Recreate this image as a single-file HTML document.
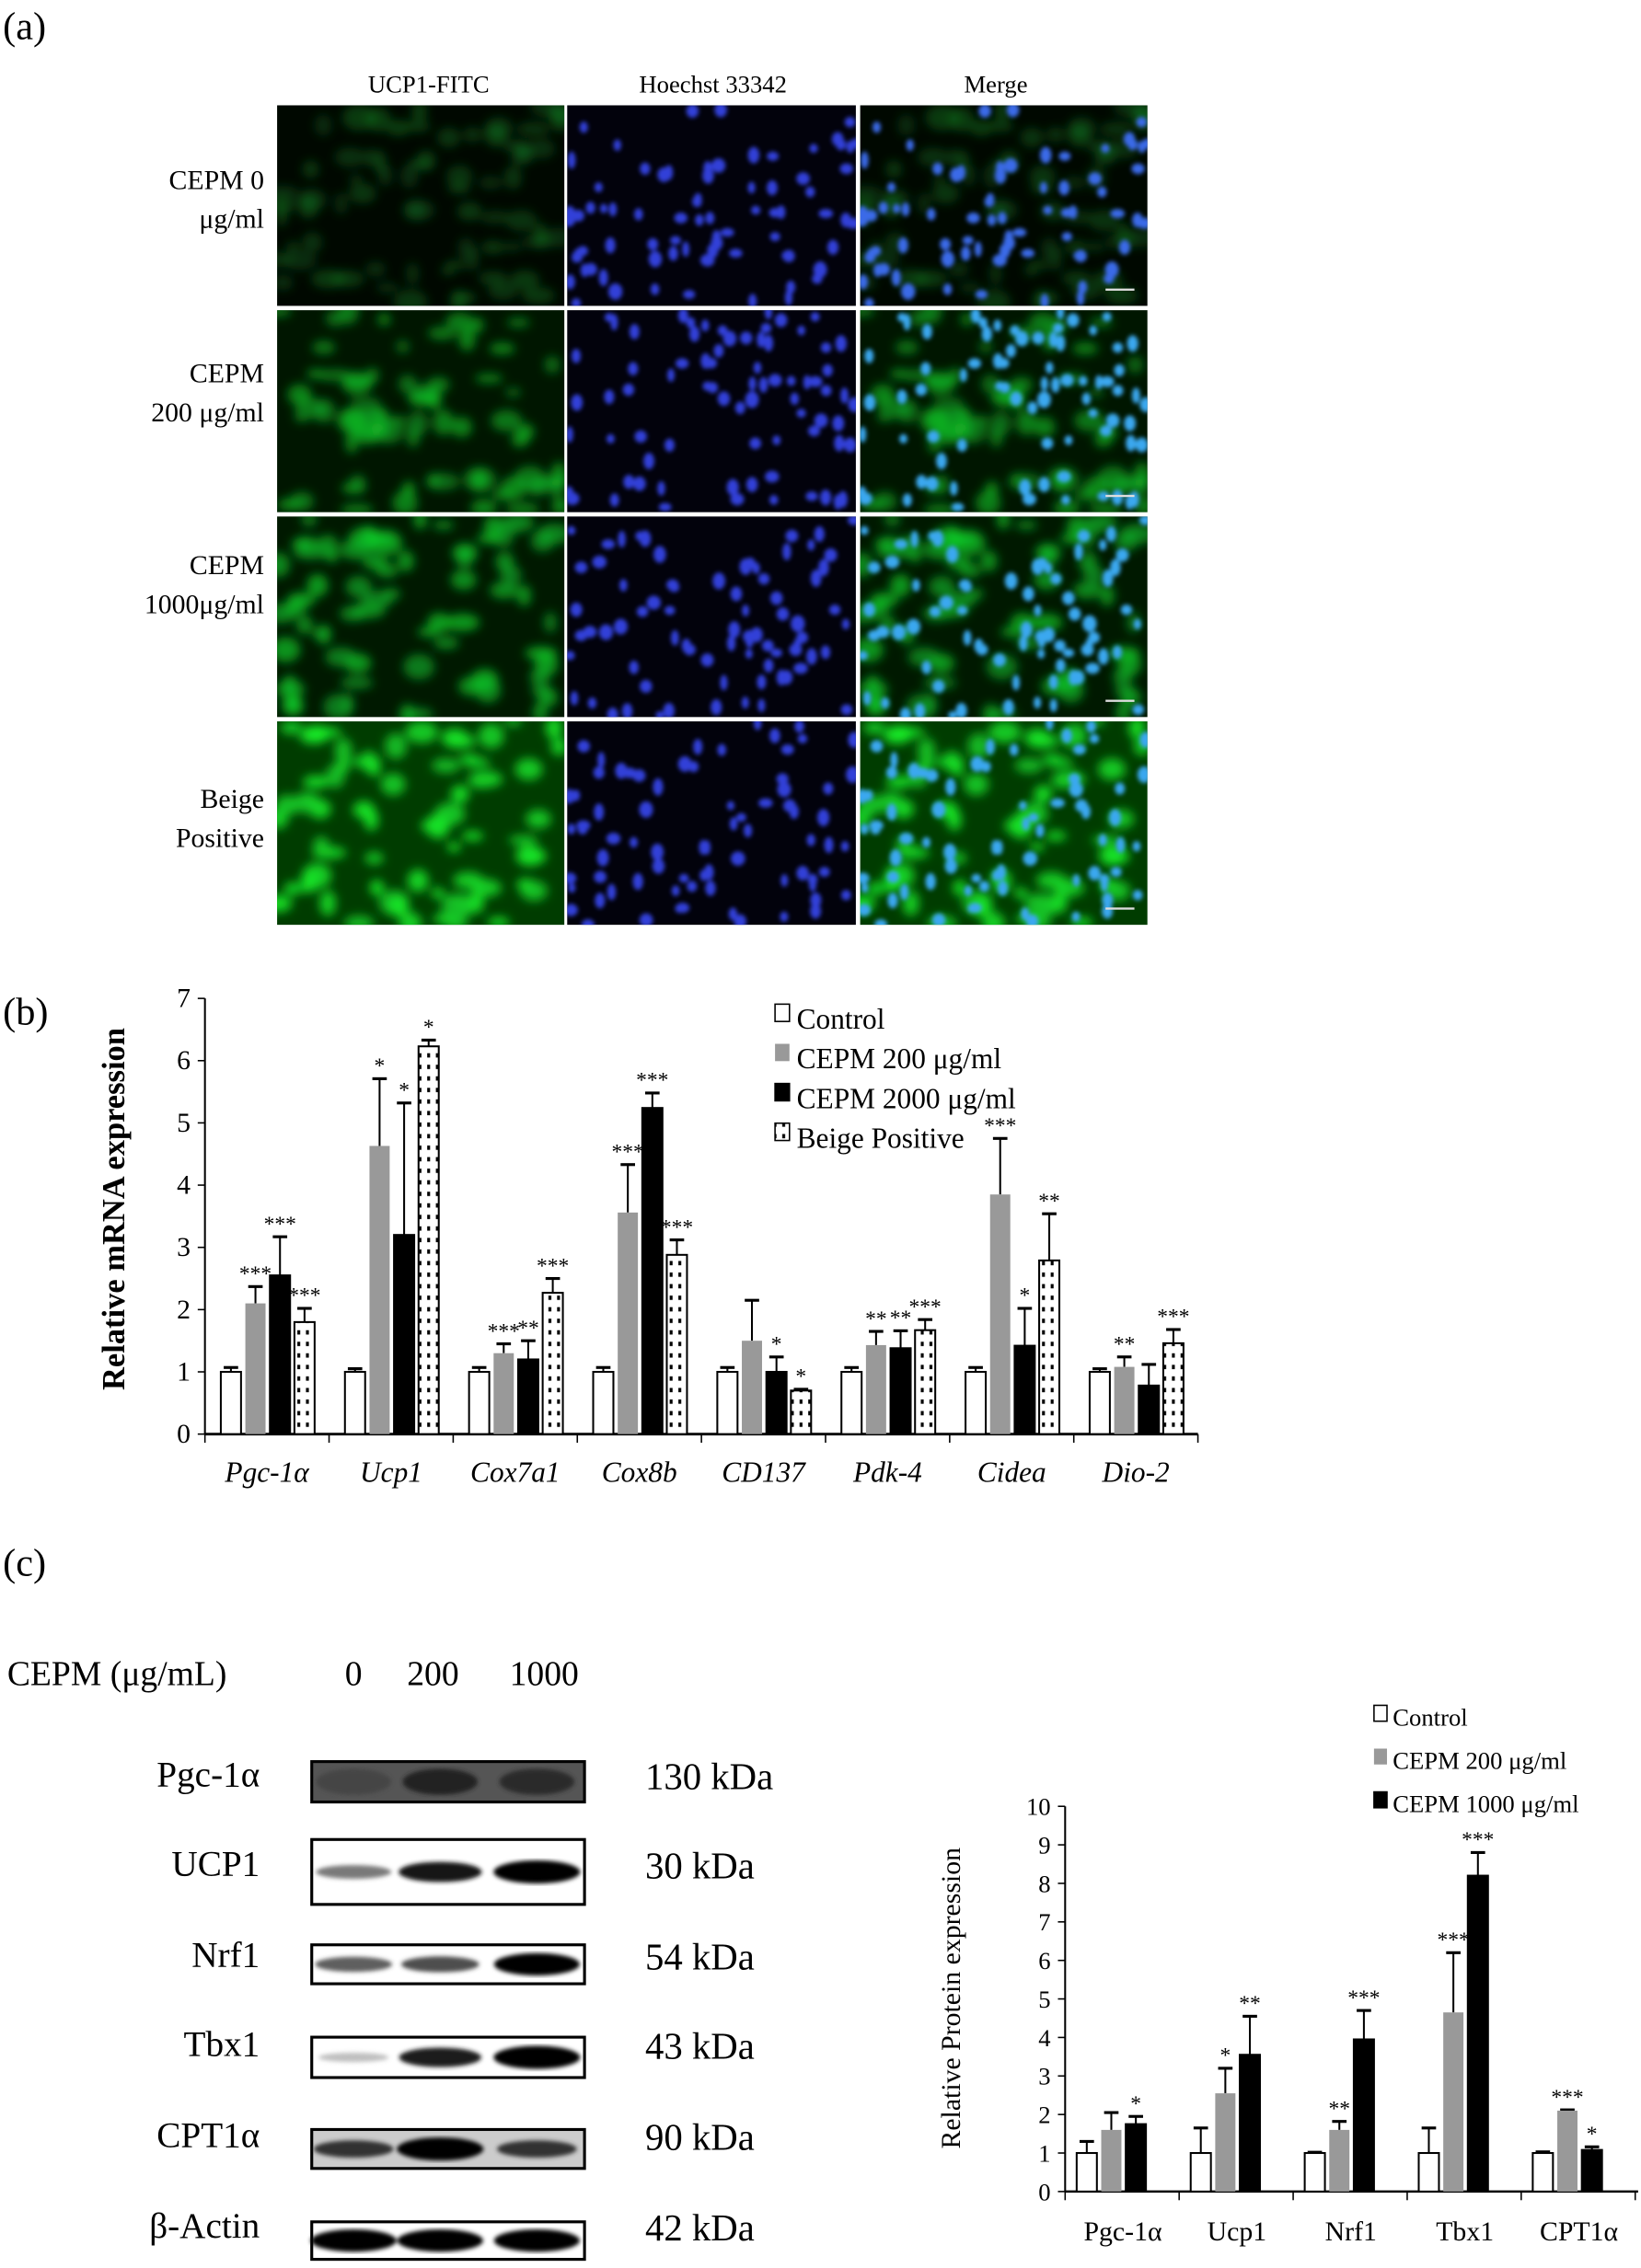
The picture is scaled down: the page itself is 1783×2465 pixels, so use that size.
<!DOCTYPE html>
<html><head><meta charset="utf-8"><style>
html,body{margin:0;padding:0;background:#fff;width:1783px;height:2465px;overflow:hidden}
svg{display:block}
text{font-family:"Liberation Serif",serif;fill:#000}
</style></head><body>
<svg id="s" width="1783" height="2465" viewBox="0 0 1137 1572" preserveAspectRatio="none" xmlns="http://www.w3.org/2000/svg">
<defs>
<pattern id="dots" width="6" height="8" patternUnits="userSpaceOnUse"><rect width="6" height="8" fill="#fff"/><rect x="2" y="2" width="2" height="3" fill="#000"/></pattern>
<filter id="bl"><feGaussianBlur stdDeviation="1.5"/></filter>
<filter id="bl2"><feGaussianBlur stdDeviation="3.5"/></filter>
</defs>
<text x="2" y="27" font-size="27">(a)</text>
<text x="297" y="64" font-size="17" text-anchor="middle">UCP1-FITC</text>
<text x="494" y="64" font-size="17" text-anchor="middle">Hoechst 33342</text>
<text x="690" y="64" font-size="17" text-anchor="middle">Merge</text>
<g font-size="19" text-anchor="end">
<text x="183" y="131">CEPM 0</text><text x="183" y="158">μg/ml</text>
<text x="183" y="265">CEPM</text><text x="183" y="292">200 μg/ml</text>
<text x="183" y="398">CEPM</text><text x="183" y="425">1000μg/ml</text>
<text x="183" y="560">Beige</text><text x="183" y="587">Positive</text>
</g>
<g id="imgs"></g>
<text x="2" y="710" font-size="27">(b)</text>
<g id="chartb"></g>
<text x="2" y="1092" font-size="27">(c)</text>
<text x="5" y="1168" font-size="24">CEPM (μg/mL)</text>
<text x="245" y="1168" font-size="24" text-anchor="middle">0</text>
<text x="300" y="1168" font-size="24" text-anchor="middle">200</text>
<text x="377" y="1168" font-size="24" text-anchor="middle">1000</text>
<g id="blots"></g>
<g id="chartc"></g>
</svg>
<script>
(function(){
var NS="http://www.w3.org/2000/svg";
function el(p,t,a,txt){var e=document.createElementNS(NS,t);for(var k in a)e.setAttribute(k,a[k]);if(txt!==undefined)e.textContent=txt;p.appendChild(e);return e;}
var seed=7;function rnd(){seed=(seed*16807)%2147483647;return seed/2147483647;}
var G=document.getElementById('imgs');
var cols=[[192,199],[393,200],[596,199]],rows=[[73,139],[215,140],[358,139],[500,141]];
var gb=[[8,0.35,110],[22,0.6,160],[25,0.65,170],[60,0.85,200]];
for(var r=0;r<4;r++){for(var c=0;c<3;c++){
 var x=cols[c][0],y=rows[r][0],w=cols[c][1],h=rows[r][1];
 var g=el(G,'g',{});
 var bgG=c==1?0:gb[r][0];
 el(g,'rect',{x:x,y:y,width:w,height:h,fill:c==1?'#02020c':'rgb(0,'+bgG+',0)'});
 var cp=el(g,'clipPath',{id:'c'+r+c});el(cp,'rect',{x:x,y:y,width:w,height:h});
 var inner=el(g,'g',{'clip-path':'url(#c'+r+c+')'});
 if(c!=1){var gg=el(inner,'g',{filter:'url(#bl2)'});seed=500+r*17;
  for(var i=0;i<70;i++){var a=gb[r][1];el(gg,'ellipse',{cx:x+rnd()*w,cy:y+rnd()*h,rx:4+rnd()*8,ry:3+rnd()*6,fill:'rgb(20,'+Math.round(gb[r][2]+rnd()*50)+',40)','fill-opacity':a});}}
 if(c!=0){var bg=el(inner,'g',{filter:'url(#bl)'});seed=1000+r*31;
  for(var i=0;i<75;i++){var col=c==2?(r==0?'#3a6ae8':'#3aa8f0'):'#3040d8';el(bg,'ellipse',{cx:x+rnd()*w,cy:y+rnd()*h,rx:2.5+rnd()*2.5,ry:3+rnd()*3,fill:col});}}
 if(c==2)el(g,'rect',{x:x+170,y:y+h-12,width:20,height:1.5,fill:'#ddd'});
}}
var B=document.getElementById('chartb');
var y0=994,u=43.14,x0=142;
el(B,'line',{x1:x0,y1:692,x2:x0,y2:y0,stroke:'#000','stroke-width':1.3});
el(B,'line',{x1:x0,y1:y0,x2:830,y2:y0,stroke:'#000','stroke-width':1.8});
for(var i=0;i<=7;i++){var yy=y0-i*u;el(B,'line',{x1:x0-5,y1:yy,x2:x0,y2:yy,stroke:'#000'});el(B,'text',{x:x0-10,y:yy+6,'font-size':19,'text-anchor':'end'},i);}
for(var i=0;i<=8;i++){var xx=x0+i*86;el(B,'line',{x1:xx,y1:y0,x2:xx,y2:y0+6,stroke:'#000'});}
var names=['Pgc-1α','Ucp1','Cox7a1','Cox8b','CD137','Pdk-4','Cidea','Dio-2'];
var vals=[[1,2.1,2.55,1.8],[1,4.63,3.2,6.23],[1,1.3,1.2,2.27],[1,3.56,5.24,2.88],[1,1.5,1.0,0.7],[1,1.43,1.38,1.67],[1,3.85,1.42,2.79],[1,1.08,0.78,1.46]];
var errs=[[.07,.27,.62,.22],[.05,1.08,2.12,.1],[.07,.15,.3,.23],[.07,.77,.24,.24],[.07,.65,.24,.02],[.07,.22,.28,.17],[.07,.9,.6,.75],[.05,.16,.34,.22]];
var stars=[['','***','***','***'],['','*','*','*'],['','***','**','***'],['','***','***','***'],['','','*','*'],['','**','**','***'],['','***','*','**'],['','**','','***']];
var fills=['#fff','#999','#000','url(#dots)'];
for(var gi=0;gi<8;gi++){var gx=x0+gi*86;
 el(B,'text',{x:gx+43,y:1027,'font-size':20,'font-style':'italic','text-anchor':'middle'},names[gi]);
 for(var k=0;k<4;k++){var bx=gx+11+k*17,v=vals[gi][k],tp=y0-v*u,et=y0-(v+errs[gi][k])*u;
  el(B,'line',{x1:bx+7,y1:tp,x2:bx+7,y2:et,stroke:'#000','stroke-width':1.3});
  el(B,'line',{x1:bx+2,y1:et,x2:bx+12,y2:et,stroke:'#000','stroke-width':2});
  el(B,'rect',{x:bx,y:tp,width:14,height:v*u,fill:fills[k],stroke:k==1?'none':'#000','stroke-width':1.3});
  if(stars[gi][k])el(B,'text',{x:bx+7,y:et-4,'font-size':15,'text-anchor':'middle'},stars[gi][k]);
 }}
var lg=[['Control','#fff'],['CEPM 200 μg/ml','#999'],['CEPM 2000 μg/ml','#000'],['Beige Positive','url(#dots)']];
for(var i=0;i<4;i++){var ly=705+i*27.5;el(B,'rect',{x:537,y:ly-9,width:10,height:12,fill:lg[i][1],stroke:i==1?'none':'#000'});el(B,'text',{x:552,y:ly+8,'font-size':20},lg[i][0]);}
el(B,'text',{x:0,y:0,'font-size':22,'font-weight':'bold','text-anchor':'middle',transform:'translate(86,838) rotate(-90)'},'Relative mRNA expression');
var BL=document.getElementById('blots');
var bl=[['Pgc-1α','130 kDa',1221,1249,[0.45,0.7,0.65],'#555'],['UCP1','30 kDa',1275,1320,[0.35,0.8,1],'#fff'],['Nrf1','54 kDa',1348,1375,[0.45,0.5,0.95],'#fff'],['Tbx1','43 kDa',1412,1440,[0.05,0.75,1],'#fff'],['CPT1α','90 kDa',1476,1503,[0.6,1,0.6],'#ccc'],['β-Actin','42 kDa',1540,1566,[0.95,0.95,0.95],'#fff']];
var lab=[1230,1292,1355,1417,1480,1543];
for(var i=0;i<6;i++){var b=bl[i];
 el(BL,'text',{x:180,y:lab[i]+8,'font-size':25,'text-anchor':'end'},b[0]);
 el(BL,'text',{x:447,y:lab[i]+10,'font-size':26},b[1]);
 el(BL,'rect',{x:216,y:b[2],width:189,height:b[3]-b[2],fill:b[5],stroke:'#000','stroke-width':2});
 var bg2=el(BL,'g',{filter:'url(#bl)'});
 var cx=[245,305,372],cy=(b[2]+b[3])/2;
 for(var j=0;j<3;j++){var s=b[4][j];if(s<0.05)continue;var gv=Math.round(120*(1-s));
  el(bg2,'ellipse',{cx:cx[j],cy:cy,rx:i==0?26:24+s*6,ry:i==0?9:3+s*5,fill:'rgb('+gv+','+gv+','+gv+')','fill-opacity':Math.min(1,0.4+s)});}
}
var C=document.getElementById('chartc');
var cy0=1519,cu=26.7,cx0=738;
el(C,'line',{x1:cx0,y1:1252,x2:cx0,y2:cy0,stroke:'#000','stroke-width':1.3});
el(C,'line',{x1:cx0,y1:cy0,x2:1135,y2:cy0,stroke:'#000','stroke-width':1.6});
for(var i=0;i<=10;i++){var yy=cy0-i*cu;el(C,'line',{x1:cx0-5,y1:yy,x2:cx0,y2:yy,stroke:'#000'});el(C,'text',{x:cx0-10,y:yy+6,'font-size':17,'text-anchor':'end'},i);}
for(var i=0;i<=5;i++){var xx=cx0+i*79;el(C,'line',{x1:xx,y1:cy0,x2:xx,y2:cy0+6,stroke:'#000'});}
var cn=['Pgc-1α','Ucp1','Nrf1','Tbx1','CPT1α'];
var cv=[[1,1.6,1.75],[1,2.55,3.55],[1,1.6,3.95],[1,4.65,8.2],[1,2.1,1.08]];
var ce=[[.3,.45,.2],[.65,.65,1.0],[.02,.22,.75],[.65,1.55,.6],[.03,.02,.08]];
var cs=[['','','*'],['','*','**'],['','**','***'],['','***','***'],['','***','*']];
var csc=[['','','#888'],['','#000','#888'],['','#000','#888'],['','#000','#888'],['','#000','#888']];
var cf=['#fff','#999','#000'];
for(var gi=0;gi<5;gi++){var gx=cx0+gi*79;
 el(C,'text',{x:gx+40,y:1553,'font-size':19,'text-anchor':'middle'},cn[gi]);
 for(var k=0;k<3;k++){var bx=gx+8+k*17,v=cv[gi][k],tp=cy0-v*cu,et=cy0-(v+ce[gi][k])*cu;
  el(C,'line',{x1:bx+7,y1:tp,x2:bx+7,y2:et,stroke:'#000','stroke-width':1.3});
  el(C,'line',{x1:bx+2,y1:et,x2:bx+12,y2:et,stroke:'#000','stroke-width':2});
  el(C,'rect',{x:bx,y:tp,width:14,height:v*cu,fill:cf[k],stroke:k==1?'none':'#000','stroke-width':1.3});
  if(cs[gi][k])el(C,'text',{x:bx+7,y:et-4,'font-size':15,'text-anchor':'middle',fill:csc[gi][k]},cs[gi][k]);
 }}
var lc=[['Control','#fff'],['CEPM 200 μg/ml','#999'],['CEPM 1000 μg/ml','#000']];
for(var i=0;i<3;i++){var ly=1190+i*30;el(C,'rect',{x:952,y:ly-8,width:9,height:11,fill:lc[i][1],stroke:i==1?'none':'#000'});el(C,'text',{x:965,y:ly+6,'font-size':17},lc[i][0]);}
el(C,'text',{x:0,y:0,'font-size':19,'text-anchor':'middle',transform:'translate(665,1385) rotate(-90)'},'Relative Protein expression');
})();
</script>
</body></html>
